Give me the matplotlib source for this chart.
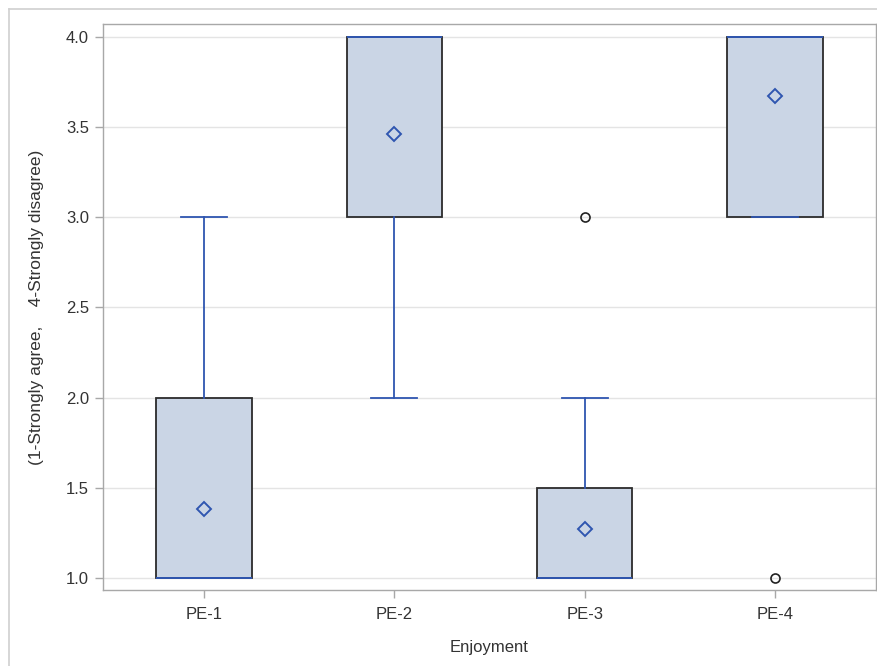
import matplotlib
matplotlib.use("Agg")
import matplotlib.pyplot as plt
from matplotlib.lines import Line2D

plt.rcParams['font.family'] = ['Liberation Sans', 'DejaVu Sans']

# Summary statistics per item (Likert scale 1-4)
categories = ["PE-1", "PE-2", "PE-3", "PE-4"]
whisker_low = [1.0, 2.0, 1.0, 3.0]
q1 = [1.0, 3.0, 1.0, 3.0]
median = [1.0, 4.0, 1.0, 4.0]
q3 = [2.0, 4.0, 1.5, 4.0]
whisker_high = [3.0, 4.0, 2.0, 4.0]
means = [1.38, 3.46, 1.27, 3.67]
outliers = [[], [], [3.0], [1.0]]
y_ticks = [1.0, 1.5, 2.0, 2.5, 3.0, 3.5, 4.0]

BOX_FILL = "#CAD5E5"
BLUE = "#2F56B0"
EDGE = "#2B2B2B"
GRID = "#E4E4E4"
SPINE = "#A8A8A8"
TEXT = "#333333"

fig = plt.figure(figsize=(8.78, 6.66), dpi=100)
ax = fig.add_axes([103 / 878, 76 / 666, 773 / 878, 566 / 666])

stats = []
for i, name in enumerate(categories):
    stats.append(dict(label=name, whislo=whisker_low[i], q1=q1[i], med=median[i],
                      q3=q3[i], whishi=whisker_high[i], mean=means[i],
                      fliers=outliers[i]))

ax.bxp(stats, positions=range(len(categories)), widths=0.5, capwidths=0.24,
       patch_artist=True, showmeans=True, showfliers=True,
       boxprops=dict(facecolor=BOX_FILL, edgecolor=EDGE, linewidth=1.3),
       medianprops=dict(color=BLUE, linewidth=1.4),
       whiskerprops=dict(color=BLUE, linewidth=1.3),
       capprops=dict(color=BLUE, linewidth=1.3),
       meanprops=dict(marker="D", markerfacecolor="none", markeredgecolor=BLUE,
                      markersize=7.5, markeredgewidth=1.4),
       flierprops=dict(marker="o", markerfacecolor="none", markeredgecolor="#222222",
                       markersize=6.5, markeredgewidth=1.2),
       zorder=3)

ax.set_xlim(-0.53, 3.53)
ax.set_ylim(0.9335, 4.072)
ax.set_yticks(y_ticks)
ax.set_yticklabels([f"{v:.1f}" for v in y_ticks])
ax.set_xticks(range(len(categories)))
ax.set_xticklabels(categories)

ax.yaxis.grid(True, color=GRID, linewidth=1.0, zorder=0)
ax.set_axisbelow(True)

for s in ax.spines.values():
    s.set_color(SPINE)
    s.set_linewidth(1.0)

ax.tick_params(axis="both", colors=SPINE, labelcolor=TEXT, labelsize=12,
               length=6, width=1.0)
ax.tick_params(axis="y", pad=4)
ax.tick_params(axis="x", pad=6)

ax.set_xlabel("Enjoyment", fontsize=12, color=TEXT, labelpad=13)
ax.set_ylabel("(1-Strongly agree,    4-Strongly disagree)", fontsize=12.5,
              color=TEXT, labelpad=16)

# Outer panel border (left and top edges)
fig.add_artist(Line2D([8.5 / 878, 8.5 / 878], [0, 1 - 9 / 666],
                      transform=fig.transFigure, color="#D0D0D0", linewidth=1.2))
fig.add_artist(Line2D([8.5 / 878, 1], [1 - 9 / 666, 1 - 9 / 666],
                      transform=fig.transFigure, color="#D0D0D0", linewidth=1.2))

fig.savefig("out.png", dpi=100)
